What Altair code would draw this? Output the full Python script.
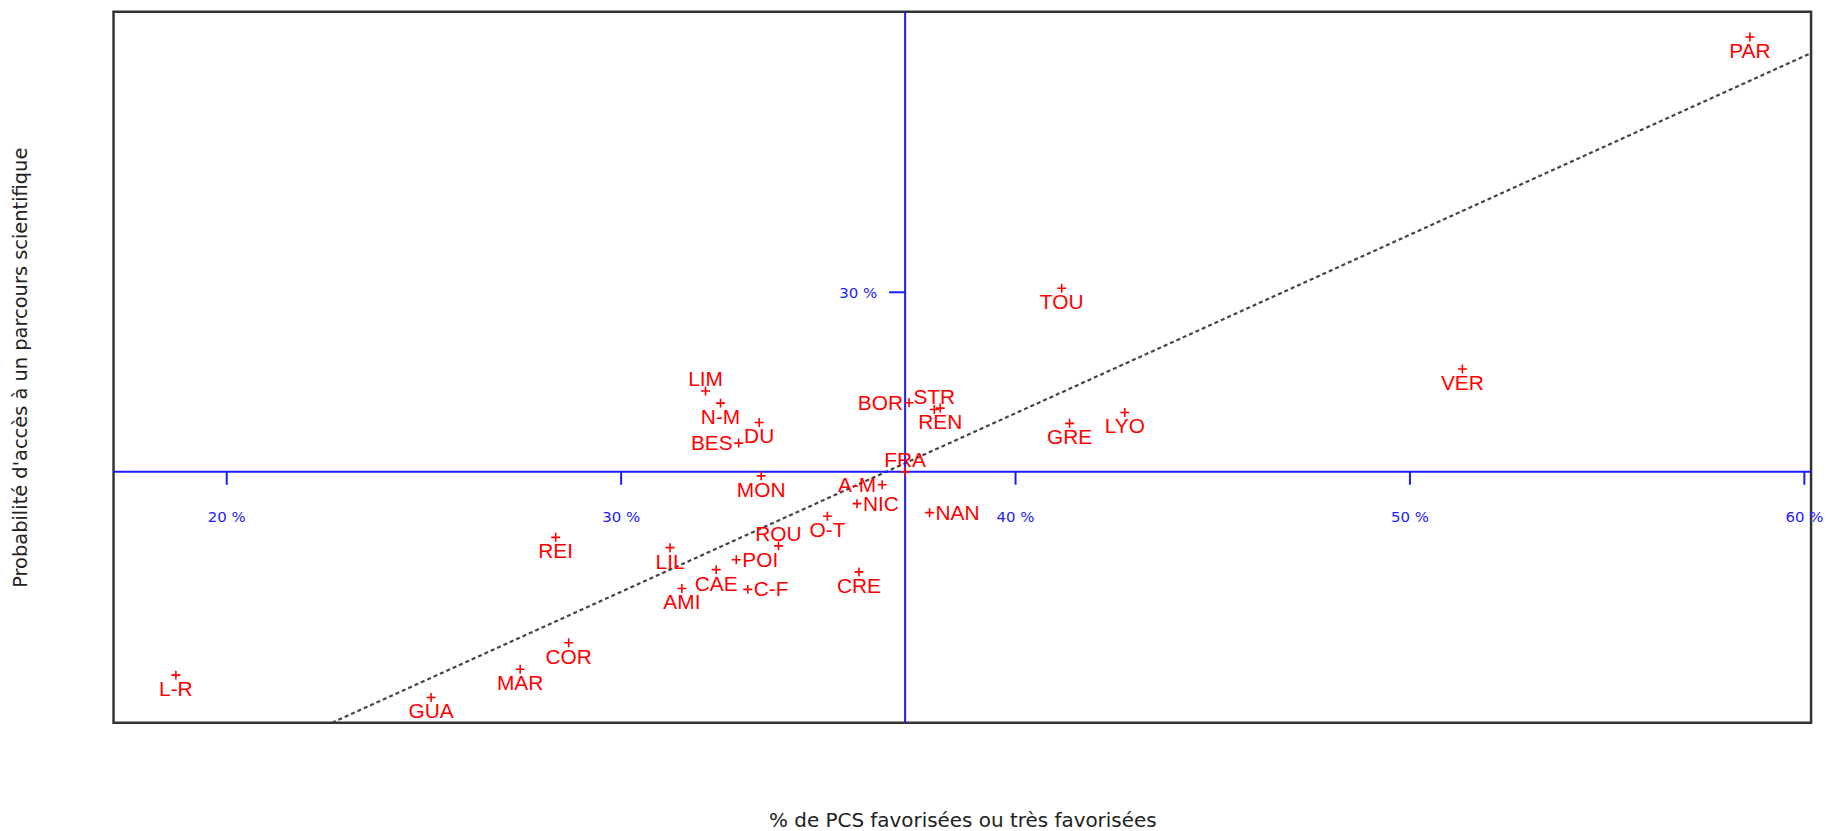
import altair as alt
import pandas as pd

# ---- data ----
names = ["PAR", "TOU", "VER", "LYO", "GRE", "LIM", "N-M", "DU", "BES", "MON",
         "BOR", "STR", "REN", "FRA", "A-M", "NIC", "NAN", "O-T", "ROU", "LIL",
         "POI", "CAE", "C-F", "CRE", "AMI", "REI", "COR", "MAR", "GUA", "L-R"]
pcs = [58.62, 41.17, 51.33, 42.77, 41.37, 32.14, 32.52, 33.50, 32.98, 33.55,
       37.30, 37.94, 38.09, 37.20, 36.62, 35.98, 37.82, 35.23, 33.99, 31.24,
       32.92, 32.41, 33.21, 36.03, 31.54, 28.34, 28.67, 27.44, 25.18, 18.71]
prob = [35.69, 30.09, 28.29, 27.32, 27.08, 27.80, 27.53, 27.10, 26.64, 25.91,
        27.54, 27.39, 27.42, 26.00, 25.71, 25.29, 25.09, 25.01, 24.35, 24.31,
        24.04, 23.82, 23.38, 23.77, 23.40, 24.54, 22.19, 21.60, 20.97, 21.47]
label_side = ["below", "below", "below", "below", "below", "above", "below", "below", "left", "below",
              "left", "above", "below", "above", "left", "right", "right", "below", "above", "below",
              "right", "below", "right", "below", "below", "below", "below", "below", "below", "below"]

fra_x = [37.20]
fra_y = [26.00]
x_ticks = [20, 30, 40, 50, 60]
x_tick_labels = ["20 %", "30 %", "40 %", "50 %", "60 %"]
y_ticks = [30]
y_tick_labels = ["30 %"]
trend_x = [22.67, 60.17]
trend_y = [20.41, 35.33]
x_domain = [17.13, 60.17]
y_domain = [20.41, 36.25]

x_title = "% de PCS favorisées ou très favorisées"
y_title = "Probabilité d'accès à un parcours scientifique"

# ---- tables ----
pts = pd.DataFrame({"x": pcs, "y": prob, "name": names, "side": label_side})
cross = pd.DataFrame({"x": fra_x, "y": fra_y})
xt = pd.DataFrame({"x": x_ticks, "y": fra_y * len(x_ticks), "lab": x_tick_labels})
yt = pd.DataFrame({"x": fra_x * len(y_ticks), "y": y_ticks, "lab": y_tick_labels})
trend = pd.DataFrame({"x": trend_x, "y": trend_y})

BLUE = "#1a1aff"
RED = "#ff0000"
TITLE_FONT = "DejaVu Sans"
LABEL_FONT = "Liberation Sans"

xs = alt.Scale(domain=x_domain, nice=False, zero=False)
ys = alt.Scale(domain=y_domain, nice=False, zero=False)
x_axis = alt.Axis(title=x_title, labels=False, ticks=False, domain=False, grid=False,
                  titleFont=TITLE_FONT, titleFontSize=20, titleFontWeight="normal",
                  titleColor="#222222", titleY=104, titleBaseline="alphabetic")
y_axis = alt.Axis(title=y_title, labels=False, ticks=False, domain=False, grid=False,
                  titleFont=TITLE_FONT, titleFontSize=19.5, titleFontWeight="normal",
                  titleColor="#222222", titleX=-93, titleBaseline="middle")
X = alt.X("x:Q", scale=xs, axis=x_axis)
Y = alt.Y("y:Q", scale=ys, axis=y_axis)

trend_line = alt.Chart(trend).mark_line(
    color="#444444", strokeWidth=2.2, strokeDash=[4, 3], clip=True
).encode(x=X, y=Y)

vline = alt.Chart(cross).mark_rule(color=BLUE, strokeWidth=2).encode(x=X)
hline = alt.Chart(cross).mark_rule(color=BLUE, strokeWidth=2).encode(y=Y)

xtick_marks = alt.Chart(xt).mark_rule(color=BLUE, strokeWidth=2, y2Offset=13).encode(
    x=X, y=Y, y2=alt.Y2("y"))
xtick_text = alt.Chart(xt).mark_text(
    color=BLUE, font=TITLE_FONT, fontSize=15, dy=45, baseline="middle", align="center"
).encode(x=X, y=Y, text="lab:N")

ytick_marks = alt.Chart(yt).mark_rule(color=BLUE, strokeWidth=2, x2Offset=-16).encode(
    x=X, x2=alt.X2("x"), y=Y)
ytick_text = alt.Chart(yt).mark_text(
    color=BLUE, font=TITLE_FONT, fontSize=15, dx=-28, dy=1, baseline="middle", align="right"
).encode(x=X, y=Y, text="lab:N")

plus = alt.Chart(pts).mark_point(
    shape="M-1,0L1,0M0,-1L0,1", size=81, filled=False, strokeWidth=1.6,
    color=RED, opacity=1
).encode(x=X, y=Y)

def labels(side, **kw):
    return alt.Chart(pts).transform_filter(
        alt.datum.side == side
    ).mark_text(color=RED, font=LABEL_FONT, fontSize=21, **kw).encode(
        x=X, y=Y, text="name:N")

lab_below = labels("below", dy=15, baseline="middle", align="center")
lab_above = labels("above", dy=-11, baseline="middle", align="center")
lab_left = labels("left", dx=-6, dy=1, baseline="middle", align="right")
lab_right = labels("right", dx=6, dy=1, baseline="middle", align="left")

chart = alt.layer(
    trend_line, vline, hline, xtick_marks, xtick_text, ytick_marks, ytick_text,
    plus, lab_below, lab_above, lab_left, lab_right
).properties(
    width=1705, height=714,
    padding={"left": 106, "top": 2, "right": 14, "bottom": 112},
    autosize=alt.AutoSizeParams(type="none"),
    background="white",
).configure_view(
    stroke="#333333", strokeWidth=2.5
)

chart.save("out.html", embed_options={"renderer": "svg", "actions": False})
